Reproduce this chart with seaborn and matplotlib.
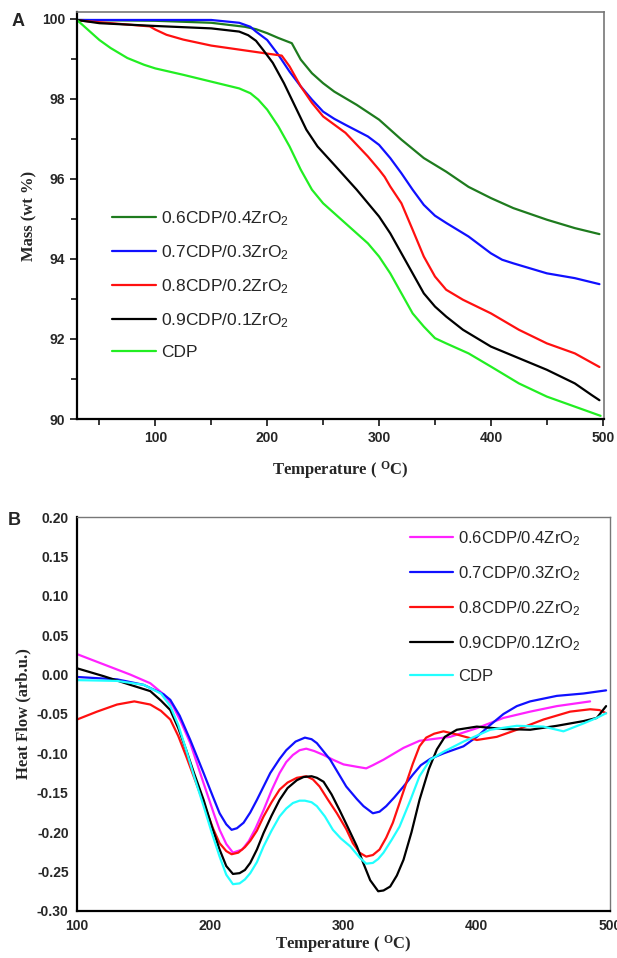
import matplotlib
matplotlib.use('Agg')
import matplotlib.pyplot as plt
import seaborn as sns

# ---- panel A : TGA ----
labels = ['0.6CDP/0.4ZrO$_2$', '0.7CDP/0.3ZrO$_2$', '0.8CDP/0.2ZrO$_2$',
          '0.9CDP/0.1ZrO$_2$', 'CDP']

t06 = [30, 100, 150, 180, 190, 200, 210, 222, 230, 240, 250, 260, 280, 300, 320, 340, 360, 380, 400, 420,
       450, 475, 497]
m06 = [99.97, 99.95, 99.9, 99.8, 99.74, 99.64, 99.52, 99.39, 98.98, 98.64, 98.39, 98.18, 97.85, 97.48,
       96.98, 96.52, 96.18, 95.8, 95.52, 95.27, 94.98, 94.77, 94.62]

t07 = [30, 150, 175, 185, 190, 200, 210, 220, 230, 240, 250, 260, 270, 290, 300, 310, 320, 330, 340, 350,
       360, 380, 400, 410, 420, 450, 475, 497]
m07 = [99.97, 99.97, 99.9, 99.8, 99.68, 99.47, 99.1, 98.68, 98.31, 97.98, 97.68, 97.5, 97.35, 97.06,
       96.85, 96.52, 96.14, 95.73, 95.35, 95.08, 94.9, 94.56, 94.14, 93.98, 93.89, 93.64, 93.52, 93.37]

t08 = [30, 95, 100, 110, 125, 150, 175, 200, 213, 220, 230, 240, 250, 270, 290, 300, 305, 310, 320, 330,
       340, 350, 360, 375, 400, 425, 450, 475, 497]
m08 = [99.96, 99.81, 99.73, 99.6, 99.48, 99.33, 99.23, 99.13, 99.08, 98.81, 98.31, 97.9, 97.56, 97.15,
       96.56, 96.23, 96.05, 95.81, 95.39, 94.73, 94.06, 93.56, 93.23, 92.98, 92.64, 92.23, 91.89, 91.64, 91.3]

t09 = [30, 50, 100, 150, 175, 183, 190, 197, 205, 215, 225, 235, 245, 260, 280, 300, 310, 320, 330, 340,
       350, 360, 375, 400, 425, 450, 475, 490, 497]
m09 = [99.97, 99.89, 99.82, 99.76, 99.68, 99.59, 99.45, 99.2, 98.9, 98.39, 97.81, 97.23, 96.81, 96.35,
       95.73, 95.06, 94.64, 94.14, 93.64, 93.14, 92.81, 92.56, 92.23, 91.81, 91.52, 91.23, 90.89, 90.6, 90.47]

tcdp = [30, 40, 50, 60, 75, 90, 100, 125, 150, 175, 185, 192, 200, 210, 220, 230, 240, 250, 270, 290,
        300, 310, 320, 330, 340, 350, 360, 380, 400, 425, 450, 475, 498]
mcdp = [99.97, 99.72, 99.47, 99.27, 99.02, 98.85, 98.76, 98.6, 98.43, 98.26, 98.14, 97.98, 97.73, 97.31,
        96.81, 96.23, 95.73, 95.39, 94.89, 94.39, 94.06, 93.64, 93.14, 92.64, 92.31, 92.02, 91.89, 91.64,
        91.31, 90.89, 90.56, 90.31, 90.08]

# ---- panel B : DSC ----
h_t06 = [100, 120, 140, 155, 165, 172, 178, 185, 195, 203, 207, 212, 217, 224, 229, 234, 240, 246, 252,
         257, 262, 267, 272, 278, 285, 292, 300, 310, 317, 322, 330, 345, 357, 380, 400, 420, 440, 460, 485]
h06 = [0.026, 0.013, 0.0, -0.011, -0.025, -0.04, -0.06, -0.087, -0.138, -0.178, -0.197, -0.215, -0.226,
       -0.222, -0.211, -0.195, -0.172, -0.147, -0.125, -0.111, -0.102, -0.096, -0.094, -0.097, -0.102,
       -0.108, -0.114, -0.117, -0.119, -0.115, -0.108, -0.093, -0.084, -0.079, -0.068, -0.055, -0.047,
       -0.04, -0.034]

h_t07 = [100, 130, 150, 165, 170, 177, 185, 195, 202, 207, 212, 216, 220, 225, 230, 235, 245, 252, 257,
         264, 271, 276, 280, 290, 302, 310, 315, 322, 327, 332, 338, 345, 352, 358, 365, 375, 390, 400,
         410, 420, 430, 440, 460, 480, 497]
h07 = [-0.003, -0.006, -0.013, -0.025, -0.032, -0.052, -0.083, -0.125, -0.155, -0.176, -0.19, -0.197,
       -0.195, -0.188, -0.175, -0.159, -0.125, -0.107, -0.096, -0.085, -0.08, -0.082, -0.087, -0.108,
       -0.142, -0.158, -0.167, -0.176, -0.174, -0.167, -0.156, -0.142, -0.127, -0.115, -0.107, -0.1,
       -0.091, -0.079, -0.064, -0.05, -0.04, -0.034, -0.027, -0.024, -0.02]

h_t08 = [100, 115, 130, 143, 155, 163, 170, 176, 182, 195, 202, 207, 212, 216, 221, 226, 230, 235, 240,
         246, 252, 258, 265, 272, 277, 282, 288, 295, 302, 307, 312, 317, 322, 327, 332, 337, 342, 347,
         352, 357, 362, 368, 375, 385, 400, 415, 430, 450, 470, 485, 492, 497]
h08 = [-0.057, -0.047, -0.038, -0.034, -0.038, -0.046, -0.057, -0.078, -0.104, -0.163, -0.195, -0.214,
       -0.224, -0.228, -0.226, -0.219, -0.211, -0.198, -0.18, -0.162, -0.146, -0.137, -0.131, -0.129,
       -0.133, -0.142, -0.158, -0.176, -0.196, -0.214, -0.226, -0.231, -0.229, -0.222, -0.207, -0.188,
       -0.163, -0.138, -0.113, -0.091, -0.08, -0.075, -0.072, -0.076, -0.083, -0.079, -0.07, -0.057,
       -0.047, -0.044, -0.045, -0.049]

h_t09 = [100, 120, 140, 155, 163, 170, 176, 182, 188, 195, 201, 207, 212, 217, 222, 226, 230, 235, 240,
         246, 252, 258, 265, 270, 276, 280, 285, 291, 297, 303, 310, 315, 320, 326, 330, 335, 340, 345,
         351, 357, 364, 370, 376, 385, 400, 420, 440, 460, 480, 490, 497]
h09 = [0.008, -0.002, -0.013, -0.021, -0.033, -0.045, -0.068, -0.096, -0.126, -0.159, -0.192, -0.222,
       -0.243, -0.253, -0.252, -0.248, -0.239, -0.222, -0.201, -0.179, -0.159, -0.144, -0.134, -0.13,
       -0.129, -0.131, -0.136, -0.152, -0.172, -0.193, -0.218, -0.24, -0.261, -0.275, -0.274, -0.269,
       -0.255, -0.235, -0.2, -0.159, -0.12, -0.095, -0.079, -0.07, -0.066, -0.069, -0.07, -0.065, -0.059,
       -0.055, -0.04]

h_tcdp = [100, 130, 150, 163, 170, 176, 182, 188, 195, 201, 207, 212, 217, 222, 226, 230, 235, 240, 246,
          252, 257, 262, 267, 271, 276, 280, 286, 292, 298, 305, 312, 317, 322, 326, 330, 336, 342, 350,
          357, 365, 375, 390, 410, 430, 450, 465, 480, 490, 497]
hcdp = [-0.007, -0.008, -0.013, -0.024, -0.04, -0.064, -0.096, -0.13, -0.167, -0.2, -0.231, -0.254,
        -0.266, -0.265, -0.26, -0.252, -0.238, -0.218, -0.198, -0.18, -0.17, -0.163, -0.16, -0.16, -0.162,
        -0.167, -0.18, -0.197, -0.208, -0.218, -0.232, -0.24, -0.239, -0.234, -0.226, -0.21, -0.193,
        -0.16, -0.129, -0.108, -0.098, -0.085, -0.07, -0.065, -0.066, -0.072, -0.062, -0.055, -0.049]

sns.set_style('ticks')
plt.rcParams['font.family'] = ['Liberation Sans', 'DejaVu Sans']
plt.rcParams['mathtext.default'] = 'regular'

fig = plt.figure(figsize=(6.17, 9.58), dpi=100)
axA = fig.add_axes([0.1248, 0.5626, 0.854, 0.4249])
axB = fig.add_axes([0.1248, 0.0491, 0.864, 0.4112])

colA = ['#1e7b1e', '#1010ff', '#ff1010', '#000000', '#22ee22']
for t, m, c, lab in zip([t06, t07, t08, t09, tcdp], [m06, m07, m08, m09, mcdp], colA, labels):
    sns.lineplot(x=t, y=m, color=c, lw=1.6, label=lab, ax=axA)

colB = ['#ff22ff', '#1010ff', '#ff1010', '#000000', '#22ffff']
for t, h, c, lab in zip([h_t06, h_t07, h_t08, h_t09, h_tcdp], [h06, h07, h08, h09, hcdp], colB, labels):
    sns.lineplot(x=t, y=h, color=c, lw=1.6, label=lab, ax=axB)

serif = {'family': 'Liberation Serif', 'weight': 'bold', 'size': 12}

# panel A styling
axA.set_xlim(30, 501)
axA.set_ylim(90, 100.17)
axA.set_xticks([100, 200, 300, 400, 500])
axA.set_xticks([50, 150, 250, 350, 450], minor=True)
axA.set_yticks([90, 92, 94, 96, 98, 100])
axA.set_yticks([91, 93, 95, 97, 99], minor=True)
axA.tick_params(which='both', direction='out', width=1.3, length=5, labelsize=10)
axA.tick_params(which='minor', length=4)
for s in ['left', 'bottom']:
    axA.spines[s].set_linewidth(1.6)
    axA.spines[s].set_color('black')
for s in ['top', 'right']:
    axA.spines[s].set_linewidth(1.2)
    axA.spines[s].set_color('#777777')
axA.set_xlabel('Temperature ( $^{O}$C)', fontdict=serif, labelpad=10)
axA.set_ylabel('Mass (wt %)', fontdict=serif, labelpad=3)
axA.legend(loc='upper left', bbox_to_anchor=(0.054, 0.532), frameon=False, fontsize=12.5,
           handlelength=2.5, handletextpad=0.3, labelspacing=0.88, borderaxespad=0)

# panel B styling
axB.set_xlim(100, 500)
axB.set_ylim(-0.30, 0.20)
axB.set_xticks([100, 200, 300, 400, 500])
axB.set_yticks([-0.30, -0.25, -0.20, -0.15, -0.10, -0.05, 0.00, 0.05, 0.10, 0.15, 0.20])
axB.set_yticklabels(['-0.30', '-0.25', '-0.20', '-0.15', '-0.10', '-0.05', '0.00', '0.05', '0.10',
                     '0.15', '0.20'])
axB.tick_params(length=0, labelsize=10, pad=6)
for s in ['left', 'bottom']:
    axB.spines[s].set_linewidth(1.6)
    axB.spines[s].set_color('black')
for s in ['top', 'right']:
    axB.spines[s].set_linewidth(1.0)
    axB.spines[s].set_color('#777777')
axB.set_xlabel('Temperature ( $^{O}$C)', fontdict=serif, labelpad=0)
axB.set_ylabel('Heat Flow (arb.u.)', fontdict=serif, labelpad=4)
axB.legend(loc='upper left', bbox_to_anchor=(0.612, 0.986), frameon=False, fontsize=12,
           handlelength=2.6, handletextpad=0.3, labelspacing=0.97, borderaxespad=0)

for ax in [axA, axB]:
    for lab in ax.get_xticklabels() + ax.get_yticklabels():
        lab.set_fontweight('bold')

fig.text(0.019, 0.978, 'A', fontsize=13, fontweight='bold', va='center')
fig.text(0.013, 0.457, 'B', fontsize=13, fontweight='bold', va='center')

fig.savefig('out.png', dpi=100)
